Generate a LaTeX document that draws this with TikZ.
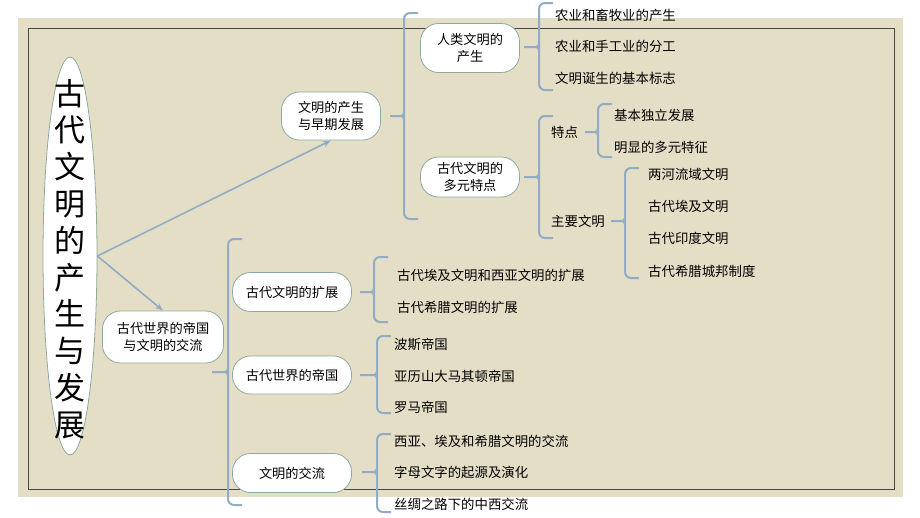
\documentclass[tikz,border=0pt]{standalone}
\usepackage{fontspec}
\setmainfont{Noto Sans CJK SC}
\usetikzlibrary{shapes.geometric,arrows.meta}
\definecolor{bgbeige}{RGB}{228,222,198}
\definecolor{framegray}{RGB}{70,70,66}
\definecolor{nodeedge}{RGB}{140,170,158}
\definecolor{bracecol}{RGB}{145,172,196}
\tikzset{
  topic/.style={draw=nodeedge,fill=white,line width=0.8pt,rounded corners=18pt,
    align=center,inner sep=0pt,font=\fontsize{13.2}{16.5}\selectfont},
  leaf/.style={anchor=west,inner sep=0pt,font=\fontsize{13.4}{16}\selectfont},
  bracestyle/.style={draw=bracecol,line width=2pt,rounded corners=6pt},
  tipstyle/.style={draw=bracecol,line width=2pt},
  arr/.style={draw=bracecol,line width=1.6pt,-{Stealth[length=8pt,width=6pt]}}
}
% #1 vertical x, #2 top, #3 middle, #4 bottom, #5 tip x
\newcommand\mybrace[5]{%
  \draw[bracestyle] ({#1+14},#2) -- (#1,#2) -- (#1,#4) -- ({#1+14},#4);
  \draw[tipstyle] (#5,#3) -- ({#1-4},#3) .. controls ({#1-1},#3) .. (#1,{#3-4});
  \draw[tipstyle] ({#1-4},#3) .. controls ({#1-1},#3) .. (#1,{#3+4});
}
\begin{document}
\begin{tikzpicture}[x=1pt,y=-1pt]
\useasboundingbox (0,0) rectangle (920,517);
\fill[bgbeige] (18,18) rectangle (903,497);
\draw[framegray,line width=0.9pt] (28,28) rectangle (894,489);

% main node
\node[ellipse,draw=nodeedge,fill=white,line width=0.8pt,minimum width=54pt,
  minimum height=398pt,inner sep=0pt] (main) at (70,256) {};
\node[align=center,inner sep=0pt,font=\fontsize{31}{36.8}\selectfont] (title) at (70,259)
  {古\\代\\文\\明\\的\\产\\生\\与\\发\\展};

% level 1
\node[topic,minimum width=99pt,minimum height=48pt] (n1) at (331,116) {文明的产生\\与早期发展};
\node[topic,minimum width=121pt,minimum height=52pt] (n2) at (163,337) {古代世界的帝国\\与文明的交流};
\draw[arr] (main.east) -- (n1.south);
\draw[arr] (main.east) -- (n2.north);

% upper branch
\mybrace{404}{13}{116}{219}{390}
\node[topic,minimum width=99pt,minimum height=49pt] (n11) at (470,48) {人类文明的\\产生};
\node[topic,minimum width=99pt,minimum height=40pt] (n12) at (470,177) {古代文明的\\多元特点};

\mybrace{539}{3}{47}{90}{524}
\node[leaf] (a1) at (555,15) {农业和畜牧业的产生};
\node[leaf] (a2) at (555,46) {农业和手工业的分工};
\node[leaf] (a3) at (555,78) {文明诞生的基本标志};

\mybrace{539}{116}{177}{238}{524}
\node[leaf] (b1) at (551,132) {特点};
\node[leaf] (b2) at (551,221) {主要文明};

\mybrace{598}{104}{132}{157}{585}
\node[leaf] (c1) at (614,115) {基本独立发展};
\node[leaf] (c2) at (614,147) {明显的多元特征};

\mybrace{625}{168}{221}{278}{611}
\node[leaf] (d1) at (648,174) {两河流域文明};
\node[leaf] (d2) at (648,206) {古代埃及文明};
\node[leaf] (d3) at (648,238) {古代印度文明};
\node[leaf] (d4) at (648,271) {古代希腊城邦制度};

% lower branch
\mybrace{228}{239}{372}{505}{212}
\node[topic,minimum width=119pt,minimum height=39pt] (n21) at (292,292) {古代文明的扩展};
\node[topic,minimum width=119pt,minimum height=38pt] (n22) at (292,375) {古代世界的帝国};
\node[topic,minimum width=119pt,minimum height=39pt] (n23) at (292,473) {文明的交流};

\mybrace{374}{257}{292}{322}{360}
\node[leaf] (e1) at (397,275) {古代埃及文明和西亚文明的扩展};
\node[leaf] (e2) at (397,307) {古代希腊文明的扩展};

\mybrace{377}{336}{375}{413}{360}
\node[leaf] (f1) at (394,344) {波斯帝国};
\node[leaf] (f2) at (394,376) {亚历山大马其顿帝国};
\node[leaf] (f3) at (394,407) {罗马帝国};

\mybrace{377}{434}{472}{512}{362}
\node[leaf] (g1) at (394,441) {西亚、埃及和希腊文明的交流};
\node[leaf] (g2) at (394,472) {字母文字的起源及演化};
\node[leaf] (g3) at (394,504) {丝绸之路下的中西交流};
\end{tikzpicture}
\end{document}
